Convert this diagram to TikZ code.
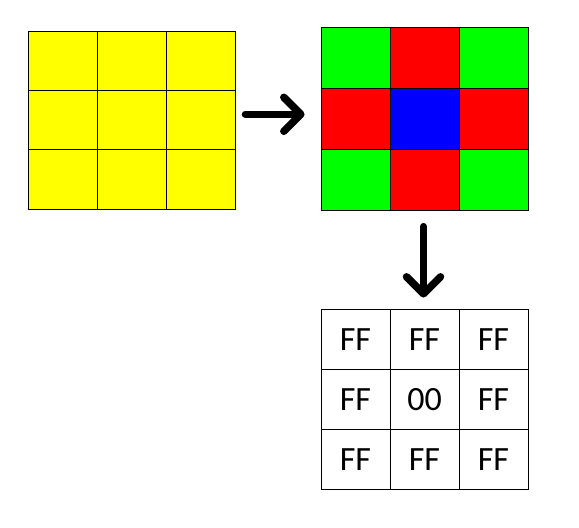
\documentclass[tikz,border=0pt]{standalone}
\usepackage{fontspec}
\newfontfamily\cellfont{Carlito}
\usetikzlibrary{arrows.meta,positioning}
\definecolor{yelc}{HTML}{FFFF00}
\definecolor{grnc}{HTML}{00FF00}
\definecolor{redc}{HTML}{FF0000}
\definecolor{bluc}{HTML}{0000FF}
\tikzset{
  ar/.style={-{Straight Barb[length=17pt,width=34pt,round]},line width=7.5pt,line cap=round,black},
  cellbox/.style={draw,line width=0.9pt,minimum width=69pt,inner sep=0pt,
    font=\cellfont\fontsize{34}{40}\selectfont}
}
% 3x3 grid: name, left x, top y, row height, list of fill/text
\newcommand{\cellgrid}[5]{\foreach \c/\t [count=\i from 0] in {#5}{
  \pgfmathtruncatemacro\col{mod(\i,3)}\pgfmathtruncatemacro\row{div(\i,3)}
  \node[cellbox,fill=\c,minimum height=#4pt] (#1\i) at (#2+34.5+\col*69,#3+#4/2+\row*#4) {\t};}}

\begin{document}
\begin{tikzpicture}[x=1pt,y=-1pt]
\useasboundingbox (0,0) rectangle (579,528);
\cellgrid{src}{28}{31.5}{59.2}{yelc/,yelc/,yelc/,yelc/,yelc/,yelc/,yelc/,yelc/,yelc/}
\cellgrid{bay}{321}{27.5}{60.9}{grnc/,redc/,grnc/,redc/,bluc/,redc/,grnc/,redc/,grnc/}
\cellgrid{out}{321}{309}{60.3}{white/FF,white/FF,white/FF,white/FF,white/00,white/FF,white/FF,white/FF,white/FF}
\draw[ar] ([xshift=10pt,yshift=6pt]src5.east) -- ([xshift=-16pt,yshift=6pt]src5.east -| bay3.west);
\draw[ar] ([yshift=-16pt,xshift=-1pt]bay7.south) -- ([yshift=11pt,xshift=-1pt]out1.north);
\end{tikzpicture}
\end{document}
